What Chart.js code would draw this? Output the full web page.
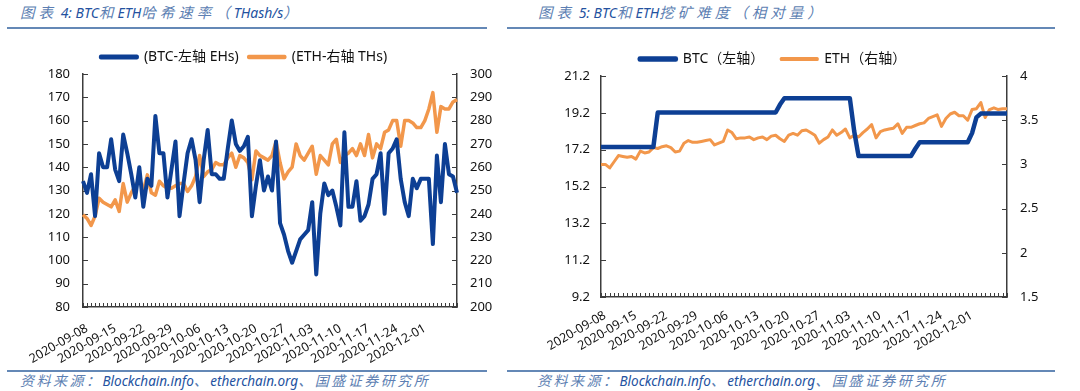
<!DOCTYPE html>
<html>
<head>
<meta charset="utf-8">
<script src="https://cdn.jsdelivr.net/npm/chart.js@4.4.1/dist/chart.umd.min.js"></script>
<style>
  body { margin: 0; width: 1080px; height: 391px; background: #fff; position: relative; overflow: hidden;
         font-family: 'Noto Sans', 'Noto Sans CJK SC', sans-serif; }
  .title, .src { position: absolute; font-style: italic; white-space: nowrap; color: #2452a0; line-height: 20px; }
  .title { top: 2px; font-size: 14px; }
  .title .cj { font-size: 14.5px; letter-spacing: 4px; }
  .src { top: 371px; font-size: 13.5px; }
  .src .cj { font-size: 14px; letter-spacing: 2.5px; }
  .cj { color: #5d7fb3; }
  .rule { position: absolute; height: 2px; background: #6488b6; }
  canvas { position: absolute; }
</style>
</head>
<body>
<div class="title" style="left:20px"><span class="cj">图表</span> 4: BTC<span class="cj">和</span>ETH<span class="cj">哈希速率（</span>THash/s<span class="cj">）</span></div>
<div class="title" style="left:538px"><span class="cj">图表</span> 5: BTC<span class="cj">和</span>ETH<span class="cj">挖矿难度（相对量）</span></div>
<div class="rule" style="left:7px;width:480px;top:27px"></div>
<div class="rule" style="left:507px;width:548px;top:27px"></div>

<canvas id="hashChart" width="502" height="330" style="left:-7px;top:40px"></canvas>
<canvas id="diffChart" width="540" height="320" style="left:503px;top:40px"></canvas>

<div class="rule" style="left:7px;width:480px;top:370px"></div>
<div class="rule" style="left:507px;width:548px;top:370px"></div>
<div class="src" style="left:20px"><span class="cj">资料来源：</span>Blockchain.info<span class="cj">、</span>etherchain.org<span class="cj">、国盛证券研究所</span></div>
<div class="src" style="left:537px"><span class="cj">资料来源：</span>Blockchain.info<span class="cj">、</span>etherchain.org<span class="cj">、国盛证券研究所</span></div>

<script>
// daily dates 2020-09-08 .. 2020-12-10
const dates = [];
for (let i = 0; i < 94; i++) {
  dates.push(new Date(Date.UTC(2020, 8, 8 + i)).toISOString().slice(0, 10));
}
const lastLabel = '2020-12-01';

// 图表4: hash rate
const btcHash = [134,129,137,119,146,140,140,152,139,134,154,146,137,127,140,123,135,132,162,146,
  146,127,139,151,119,133,146,152,143,125,143,156,137,137,135,135,148,160,150,147,
  149,153,119,132,143,130,136,130,151,116,111,104,99,104,109,111,113,125,94,120,
  133,128,130,123,115,155,123,123,134,117,119,124,135,137,146,120,146,148,152,135,
  125,119,135,131,135,135,135,107,145,125,150,137,136,129];
const ethHash = [239.6,238,235,239,246.7,245,244,243,246,241,253,245,249,252,254.6,250,256.7,249,248,254,
  252,251,251,252,253,253,249.6,252,256,265,256,258,259,262,261,261,264,266,260,265,
  264,262,254.6,267,265,264,263,265,271,262,255,258,260,270,265,263,266,269,257,265,
  263,261,270,272,262,265,266,268,265,270,265,274,264,270,268,275,276,280,280,269,
  280,280,279,277,277,280,285,292,275,286,285,285,288,289];

// 图表5: difficulty
const btcDiff = [17.35,17.35,17.35,17.35,17.35,17.35,17.35,17.35,17.35,17.35,17.35,17.35,17.35,
  19.22,19.22,19.22,19.22,19.22,19.22,19.22,19.22,19.22,19.22,19.22,19.22,19.22,19.22,
  19.22,19.22,19.22,19.22,19.22,19.22,19.22,19.22,19.22,19.22,19.22,19.22,19.22,19.22,
  19.65,
  19.99,19.99,19.99,19.99,19.99,19.99,19.99,19.99,19.99,19.99,19.99,19.99,19.99,19.99,19.99,19.99,
  18.2,
  16.85,16.85,16.85,16.85,16.85,16.85,16.85,16.85,16.85,16.85,16.85,16.85,16.85,
  17.25,
  17.6,17.6,17.6,17.6,17.6,17.6,17.6,17.6,17.6,17.6,17.6,17.6,
  18.1,18.95,
  19.16,19.16,19.16,19.16,19.16,19.16,19.16];
const ethDiff = [3.00,3.00,2.96,3.03,3.10,3.09,3.08,3.09,3.06,3.15,
  3.13,3.14,3.19,3.18,3.20,3.21,3.19,3.14,3.15,3.24,
  3.27,3.25,3.25,3.26,3.27,3.28,3.22,3.24,3.26,3.39,
  3.36,3.29,3.30,3.30,3.31,3.28,3.30,3.31,3.28,3.32,
  3.33,3.29,3.26,3.33,3.35,3.33,3.38,3.39,3.36,3.33,
  3.24,3.28,3.31,3.39,3.33,3.36,3.40,3.30,3.33,3.31,
  3.36,3.40,3.45,3.30,3.37,3.39,3.40,3.41,3.46,3.35,
  3.42,3.42,3.44,3.46,3.47,3.52,3.54,3.56,3.43,3.52,
  3.57,3.59,3.55,3.55,3.50,3.62,3.63,3.70,3.53,3.62,
  3.64,3.62,3.63,3.63];

const BLUE = '#0d3f94';
const ORANGE = '#f2974b';
const AXIS = '#3c3c3c';
Chart.defaults.font.family = "'Noto Sans', 'Noto Sans CJK SC', sans-serif";
Chart.defaults.color = '#111';

// small tick marks pointing into the plot, like the excel original
const innerTicks = {
  id: 'innerTicks',
  beforeDatasetsDraw(chart) {
    const { ctx, chartArea: a, scales } = chart;
    ctx.save();
    ctx.strokeStyle = AXIS;
    ctx.lineWidth = 1;
    scales.x.ticks.forEach((t, i) => {
      const px = Math.round(scales.x.getPixelForTick(i)) + 0.5;
      ctx.beginPath(); ctx.moveTo(px, a.bottom); ctx.lineTo(px, a.bottom - 4); ctx.stroke();
    });
    ['y', 'y1'].forEach(id => {
      const s = scales[id];
      const left = s.position === 'left';
      const edge = left ? a.left : a.right;
      s.ticks.forEach((t, i) => {
        const py = Math.round(s.getPixelForTick(i)) + 0.5;
        ctx.beginPath(); ctx.moveTo(edge, py); ctx.lineTo(edge + (left ? 5 : -5), py); ctx.stroke();
      });
    });
    ctx.restore();
  }
};

function axisY(pos, min, max, step, width, pad, fmt) {
  return {
    position: pos, min: min, max: max,
    grid: { drawOnChartArea: false, drawTicks: false },
    border: { color: AXIS, width: 1.5 },
    ticks: { stepSize: step, padding: pad, font: { size: 13 }, callback: fmt },
    afterFit: s => { s.width = width; }
  };
}

function buildChart(id, o) {
  const stop = dates.indexOf(lastLabel);
  return new Chart(document.getElementById(id), {
    type: 'line',
    data: {
      labels: dates,
      datasets: [
        { label: o.names[0], data: o.left, yAxisID: 'y', borderColor: BLUE, backgroundColor: BLUE, borderWidth: o.widths[0] },
        { label: o.names[1], data: o.right, yAxisID: 'y1', borderColor: ORANGE, backgroundColor: ORANGE, borderWidth: o.widths[1] }
      ]
    },
    options: {
      responsive: false,
      animation: false,
      layout: { padding: { top: o.padTop, right: 0, left: 0, bottom: 0 } },
      elements: { point: { radius: 0 }, line: { tension: 0, borderJoinStyle: 'round' } },
      plugins: {
        legend: { labels: { boxWidth: 36, boxHeight: 1, padding: 10, font: { size: 14 } } },
        tooltip: { enabled: false }
      },
      scales: {
        x: {
          grid: { drawOnChartArea: false, drawTicks: false },
          border: { color: AXIS, width: 1.5 },
          ticks: {
            autoSkip: false, minRotation: 30, maxRotation: 30, padding: o.padX, labelOffset: 4,
            font: { size: 12.5 },
            callback: (v, i) => (i % 7 === 0 && i <= stop ? dates[i] : '')
          },
          afterFit: s => { s.height = 63; }
        },
        y: axisY('left', o.yl[0], o.yl[1], o.yl[2], o.wl, o.padL, o.fmtL),
        y1: axisY('right', o.yr[0], o.yr[1], o.yr[2], o.wr, 13, undefined)
      }
    },
    plugins: [innerTicks]
  });
}

buildChart('hashChart', {
  names: ['(BTC-左轴 EHs)', '(ETH-右轴 THs)'],
  left: btcHash, right: ethHash, widths: [4, 3.5],
  padTop: 0, padX: 14,
  yl: [80, 180, 10], yr: [200, 300, 10], wl: 90, wr: 38, padL: 13
});

buildChart('diffChart', {
  names: ['BTC（左轴）\u3000', 'ETH（右轴）'],
  left: btcDiff, right: ethDiff, widths: [4.5, 3],
  padTop: 2, padX: 11,
  yl: [9.2, 21.2, 2], yr: [1.5, 4, 0.5], wl: 98, wr: 36, padL: 11,
  fmtL: v => v.toFixed(1)
});
</script>
</body>
</html>
